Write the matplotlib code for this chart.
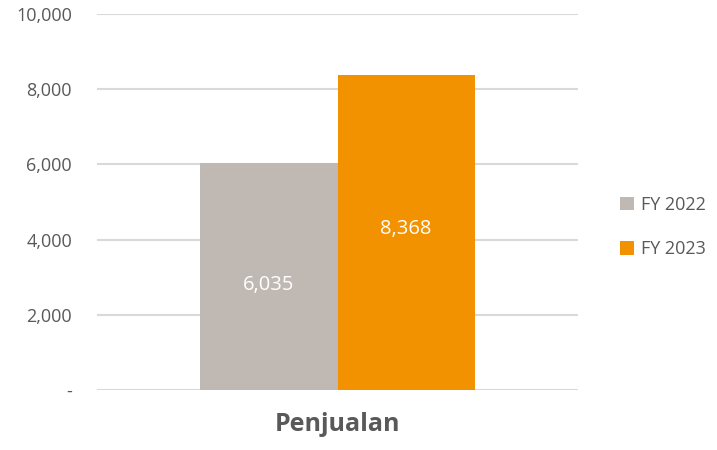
import matplotlib.pyplot as plt
from matplotlib.patches import Patch
from matplotlib.ticker import FuncFormatter

plt.rcParams['font.family'] = ['Open Sans', 'DejaVu Sans']

# data
category = "Penjualan"
series = ["FY 2022", "FY 2023"]
values = [6035, 8368]
colors = ["#C0B8B3", "#F39200"]
yticks = [0, 2000, 4000, 6000, 8000, 10000]

text_color = "#595959"

fig = plt.figure(figsize=(7.17, 4.5), dpi=100)
ax = fig.add_axes([97 / 717, 60 / 450, 481 / 717, 376 / 450])

width = 0.285
offsets = [-width / 2, width / 2]
label_shift = [-6, 3]  # points, small nudge like the original labels
for off, val, col, name, dy in zip(offsets, values, colors, series, label_shift):
    ax.bar(off, val, width=width, color=col, label=name, zorder=3)
    ax.annotate(f"{val:,}", (off, val / 2), xytext=(0, dy), textcoords='offset points',
                ha='center', va='center', color='white', fontsize=14.5, zorder=4)

ax.set_xlim(-0.5, 0.5)
ax.set_ylim(0, 10000)
ax.set_yticks(yticks)
ax.yaxis.set_major_formatter(FuncFormatter(lambda v, p: "-" if v == 0 else f"{int(v):,}"))
ax.set_xticks([])
ax.grid(axis='y', color='#D9D9D9', linewidth=1.5, zorder=0)
for s in ax.spines.values():
    s.set_visible(False)
ax.tick_params(axis='y', length=0, pad=18, labelsize=13, labelcolor=text_color)

ax.set_xlabel(category, fontsize=18, fontweight='bold', color=text_color, labelpad=16)

handles = [Patch(facecolor=c) for c in colors]
fig.legend(handles, series, loc='center left', bbox_to_anchor=(0.865, 0.495),
           frameon=False, fontsize=13, labelcolor=text_color,
           borderpad=0, borderaxespad=0,
           handlelength=0.75, handleheight=0.75, handletextpad=0.4, labelspacing=1.45)

fig.savefig("out.png", dpi=100)
